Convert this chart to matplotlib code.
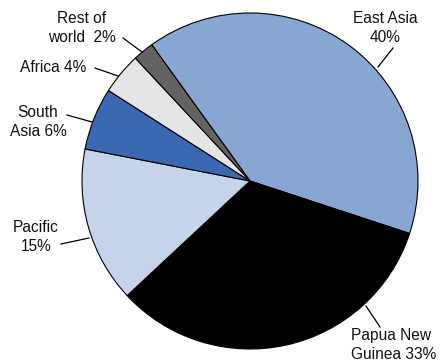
import matplotlib
matplotlib.use("Agg")
import matplotlib.pyplot as plt

# Share of total by destination (%)
regions = ["East Asia", "Papua New Guinea", "Pacific", "South Asia", "Africa", "Rest of world"]
shares = [40, 33, 15, 6, 4, 2]
label_heads = ["East Asia\n", "Papua New\nGuinea ", "Pacific\n", "South\nAsia ", "Africa ", "Rest of\nworld  "]
colors = ["#88a6d2", "#000000", "#c5d4ea", "#3b69b1", "#e5e5e5", "#636363"]

W, H = 442, 362
fig = plt.figure(figsize=(W / 100, H / 100), dpi=100)
ax = fig.add_axes([0, 0, 1, 1])

cx, cy, r = 250, 181, 168
ax.pie(shares, colors=colors, startangle=125.8, counterclock=False,
       center=(cx, H - cy), radius=r,
       wedgeprops=dict(edgecolor="black", linewidth=0.8))
ax.set_xlim(0, W)
ax.set_ylim(0, H)
ax.set_aspect("equal")
ax.axis("off")

# label placement in pixel coordinates (from top-left): text anchor, alignment, leader line
layout = [
    dict(xy=(385, 28), ha="center", line=((393, 48), (378, 67))),
    dict(xy=(351, 345), ha="left", line=((380, 327), (366, 306))),
    dict(xy=(36, 237), ha="center", line=((61, 244), (89, 238))),
    dict(xy=(38, 122), ha="center", line=((67, 115), (92, 122))),
    dict(xy=(53, 67), ha="center", line=((95, 68), (118, 76))),
    dict(xy=(82, 28), ha="center", line=((123, 38), (142, 52))),
]

for head, val, lay in zip(label_heads, shares, layout):
    x, y = lay["xy"]
    ax.text(x, H - y, f"{head}{val}%", ha=lay["ha"], va="center",
            fontsize=11.2, family="Liberation Sans", linespacing=1.3, color="#111111")
    (x0, y0), (x1, y1) = lay["line"]
    ax.plot([x0, x1], [H - y0, H - y1], color="black", linewidth=0.9)

fig.savefig("out.png", dpi=100)
